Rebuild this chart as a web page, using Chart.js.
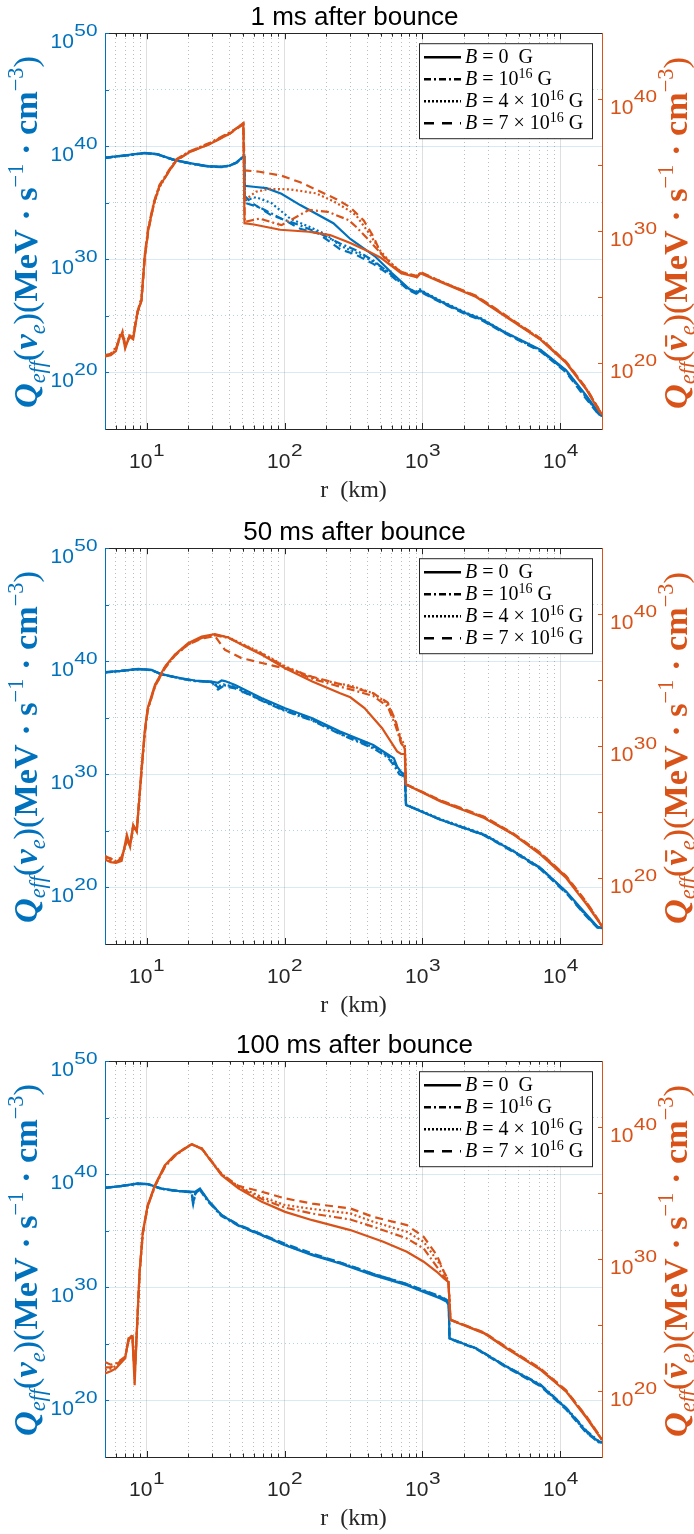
<!DOCTYPE html>
<html lang="en">
<head>
<meta charset="UTF-8">
<title>Q_eff vs r</title>
<script src="https://cdn.jsdelivr.net/npm/chart.js"></script>
<style>
  html, body { margin: 0; padding: 0; background: #fff; overflow: hidden; }
  canvas { position: absolute; left: 0; }
</style>
</head>
<body>
<canvas id="c1" width="694" height="515" style="top:0px"></canvas>
<canvas id="c2" width="694" height="515" style="top:515px"></canvas>
<canvas id="c3" width="694" height="515" style="top:1028px"></canvas>
<script>
// axis ticks
const X_MAJOR = [10, 100, 1000, 10000];
const X_EXP = [1, 2, 3, 4];
const X_MINOR = [6, 7, 8, 9, 20, 30, 40, 50, 60, 70, 80, 90, 200, 300, 400, 500, 600, 700, 800, 900,
                 2000, 3000, 4000, 5000, 6000, 7000, 8000, 9000];
const Y_LEFT_EXP = [20, 30, 40, 50];
const Y_LEFT_MINOR_EXP = [25, 35, 45];
const Y_RIGHT_EXP = [20, 30, 40];
const Y_RIGHT_MINOR_EXP = [25, 35];

// data: [r (km), log10 Q]
// 1 ms after bounce
const nu_1ms_B0 = [[5,39.0],[6,39.1],[7.5,39.25],[9.7,39.42],[12,39.3],[14.5,38.95],[16.5,38.75],[22,38.45],[28,38.25],[35,38.2],[40,38.3],[45,38.6],[50.9,39.15],[51.3,36.5],[62,36.4],[74,36.3],[95,35.8],[130,34.8],[226,33.2],[300,31.8],[450,30.3],[600,28.8],[800,27.4],[900,27.1],[960,27.25],[1050,27.0],[1350,26.3],[2100,25.2],[2650,24.75],[3900,23.6],[7200,22.0],[11000,20.2],[15500,17.9],[19000,16.4],[20000,16.2]];
const nu_1ms_B1e16 = [[5,38.95],[6,39.1],[7.5,39.2],[9.7,39.4],[12,39.28],[14.5,38.95],[16.5,38.72],[22,38.42],[28,38.2],[35,38.15],[40,38.28],[45,38.55],[50.9,39.1],[51.5,35.0],[66,34.6],[95,33.6],[130,33.0],[180,32.3],[253,31.4],[330,30.8],[440,29.9],[600,28.6],[800,27.3],[900,27.0],[960,27.2],[1050,26.95],[1350,26.25],[2100,25.15],[2650,24.7],[3900,23.55],[7200,21.9],[11000,20.1],[15500,17.75],[19000,16.3],[20000,16.15]];
const nu_1ms_B4e16 = [[5,39.0],[6,39.08],[7.5,39.22],[9.7,39.4],[12,39.3],[14.5,38.92],[16.5,38.72],[22,38.44],[28,38.22],[35,38.18],[40,38.27],[45,38.58],[50.9,39.12],[51.5,35.2],[62,35.5],[80,35.0],[110,33.6],[150,32.9],[200,32.2],[253,31.2],[330,30.6],[440,29.8],[600,28.7],[800,27.35],[900,27.15],[960,27.35],[1050,27.05],[1350,26.35],[2100,25.25],[2650,24.8],[3900,23.6],[7200,21.95],[11000,20.15],[15500,17.8],[19000,16.35],[20000,16.2]];
const nu_1ms_B7e16 = [[5,38.98],[6,39.1],[7.5,39.24],[9.7,39.4],[12,39.28],[14.5,38.93],[16.5,38.74],[22,38.43],[28,38.23],[35,38.17],[40,38.3],[45,38.57],[50.9,39.1],[51.5,35.6],[58,35.0],[67,34.5],[80,33.9],[95,33.6],[110,33.2],[130,32.7],[175,32.3],[253,30.9],[330,30.4],[440,29.6],[600,28.5],[800,27.25],[900,26.95],[960,27.15],[1050,26.9],[1350,26.2],[2100,25.1],[2650,24.65],[3900,23.5],[7200,21.85],[11000,20.0],[15500,17.6],[19000,16.25],[20000,16.15]];
const nubar_1ms_B0 = [[5,20.5],[5.5,20.6],[6.0,20.9],[6.4,22.0],[6.7,22.2],[7.0,21.1],[7.5,22.0],[8.0,21.8],[8.6,23.8],[9.2,24.8],[9.7,28.0],[10.3,30.1],[11.3,32.1],[12.4,33.4],[14.5,34.5],[16.5,35.4],[20.6,36.0],[28.8,36.6],[40.3,37.4],[50.3,38.2],[51.3,30.6],[60,30.5],[93,30.1],[150,29.95],[214,29.7],[300,29.1],[400,28.5],[495,28.0],[700,26.8],[914,26.5],[966,26.8],[1350,26.15],[2450,25.0],[3900,23.6],[7200,21.75],[11000,20.0],[15500,17.95],[19000,16.4],[20000,16.1]];
const nubar_1ms_B1e16 = [[5,20.6],[5.5,20.7],[6.0,21.2],[6.4,21.9],[6.7,22.3],[7.0,21.3],[7.5,21.9],[8.0,22.1],[8.6,23.9],[9.2,25.0],[9.7,28.2],[10.3,30.3],[11.3,32.2],[12.4,33.5],[14.5,34.6],[16.5,35.45],[20.6,36.05],[28.8,36.7],[40.3,37.5],[50.3,38.1],[51.5,30.7],[66,30.95],[95,30.45],[150,31.6],[206,31.46],[292,30.83],[330,30.33],[419,29.2],[510,28.2],[700,26.85],[914,26.55],[966,26.85],[1350,26.2],[2450,25.05],[3900,23.65],[7200,21.8],[11000,20.05],[15500,18.0],[19000,16.45],[20000,16.1]];
const nubar_1ms_B4e16 = [[5,20.55],[5.5,20.65],[6.0,21.0],[6.4,22.1],[6.7,22.0],[7.0,21.2],[7.5,22.1],[8.0,22.0],[8.6,23.7],[9.2,24.9],[9.7,28.1],[10.3,30.2],[11.3,32.0],[12.4,33.3],[14.5,34.55],[16.5,35.4],[20.6,36.05],[28.8,36.65],[40.3,37.45],[50.3,38.15],[51.5,32.35],[62,32.98],[78,33.2],[110,33.16],[170,32.86],[230,32.22],[290,31.6],[330,31.2],[419,29.7],[495,28.5],[600,27.5],[700,26.9],[914,26.55],[966,26.85],[1350,26.2],[2450,25.05],[3900,23.65],[7200,21.8],[11000,20.05],[15500,18.0],[19000,16.45],[20000,16.1]];
const nubar_1ms_B7e16 = [[5,20.5],[5.5,20.65],[6.0,21.1],[6.4,21.8],[6.7,22.4],[7.0,21.4],[7.5,22.0],[8.0,22.0],[8.6,23.9],[9.2,24.7],[9.7,27.9],[10.3,30.0],[11.3,32.1],[12.4,33.4],[14.5,34.5],[16.5,35.35],[20.6,36.0],[28.8,36.6],[40.3,37.4],[50.3,38.1],[51.5,34.6],[66,34.5],[95,34.2],[130,33.7],[240,32.4],[300,31.8],[375,30.8],[440,29.6],[495,28.4],[560,27.6],[700,26.9],[914,26.6],[966,26.9],[1350,26.2],[2450,25.1],[3900,23.7],[7200,21.85],[11000,20.1],[15500,18.05],[19000,16.5],[20000,16.1]];

// 50 ms after bounce
const nu_50ms_B0 = [[5,39.04],[6.5,39.15],[8.7,39.33],[10.9,39.24],[12.8,38.86],[17.9,38.5],[22.4,38.3],[29.6,38.2],[33,38.1],[35,38.3],[37,38.25],[43.9,37.9],[68.5,36.74],[101,35.85],[159,34.97],[253,33.8],[440,32.6],[620,31.43],[655,30.69],[710,30.1],[745,30.0],[760,27.3],[1350,25.98],[2800,24.65],[4600,23.17],[7184,21.7],[11000,19.64],[15500,17.58],[18500,16.55],[20000,16.4]];
const nu_50ms_B1e16 = [[5,39.0],[6.5,39.15],[8.7,39.3],[10.9,39.2],[12.8,38.85],[17.9,38.45],[22.4,38.25],[29.6,38.15],[33,37.7],[36,37.9],[43.9,37.7],[68.5,36.5],[101,35.6],[159,34.75],[253,33.55],[440,32.3],[560,31.5],[620,30.8],[680,30.0],[745,29.8],[760,27.3],[1350,26.0],[2800,24.65],[4600,23.2],[7184,21.7],[11000,19.55],[15500,17.45],[18500,16.5],[20000,16.4]];
const nu_50ms_B4e16 = [[5,39.02],[6.5,39.12],[8.7,39.3],[10.9,39.22],[12.8,38.84],[17.9,38.47],[22.4,38.27],[29.6,38.17],[33,37.8],[36,37.95],[43.9,37.75],[68.5,36.6],[101,35.7],[159,34.8],[253,33.6],[440,32.4],[560,31.6],[620,31.0],[680,30.2],[745,29.9],[760,27.35],[1350,26.05],[2800,24.7],[4600,23.22],[7184,21.72],[11000,19.6],[15500,17.5],[18500,16.5],[20000,16.4]];
const nu_50ms_B7e16 = [[5,39.03],[6.5,39.14],[8.7,39.31],[10.9,39.23],[12.8,38.85],[17.9,38.48],[22.4,38.28],[29.6,38.18],[33,37.5],[36,37.8],[43.9,37.6],[68.5,36.55],[101,35.65],[159,34.85],[253,33.7],[440,32.5],[560,31.7],[620,31.1],[680,30.3],[745,29.95],[760,27.3],[1350,26.0],[2800,24.6],[4600,23.1],[7184,21.6],[11000,19.5],[15500,17.4],[18500,16.45],[20000,16.4]];
const nubar_50ms_B0 = [[5,21.4],[5.5,21.2],[6.0,21.14],[6.6,21.3],[7.2,23.28],[7.6,22.4],[8.0,24.04],[8.5,23.5],[9.2,28.33],[9.7,31.11],[10.2,32.88],[11.5,34.64],[13.6,36.03],[16.0,36.92],[20.0,37.8],[25.1,38.3],[31.3,38.48],[39.2,38.23],[51.8,37.55],[68.5,36.92],[101,35.9],[159,34.9],[253,34.0],[300,33.7],[380,32.88],[510,31.36],[655,29.6],[700,29.4],[745,29.4],[755,27.1],[1350,25.8],[2800,24.55],[4600,23.28],[7184,21.77],[11000,20.0],[15500,17.98],[19600,16.46],[20000,16.3]];
const nubar_50ms_B1e16 = [[5,21.7],[5.5,21.4],[6.0,21.3],[6.6,21.6],[7.2,22.8],[7.6,22.6],[8.0,23.9],[8.5,23.7],[9.2,28.0],[9.7,30.9],[10.2,32.7],[11.5,34.5],[13.6,35.9],[16.0,36.85],[20.0,37.7],[25.1,38.2],[31.3,38.4],[39.2,38.2],[51.8,37.6],[68.5,37.0],[101,36.0],[159,35.1],[253,34.5],[300,34.3],[440,33.8],[560,33.0],[640,31.5],[700,30.2],[745,29.9],[760,27.1],[1350,25.85],[2800,24.6],[4600,23.3],[7184,21.85],[11000,20.1],[15500,18.1],[19600,16.5],[20000,16.3]];
const nubar_50ms_B4e16 = [[5,21.5],[5.5,21.3],[6.0,21.2],[6.6,21.4],[7.2,23.0],[7.6,22.5],[8.0,24.0],[8.5,23.6],[9.2,28.2],[9.7,31.0],[10.2,32.8],[11.5,34.6],[13.6,36.0],[16.0,36.9],[20.0,37.75],[25.1,38.25],[31.3,38.45],[39.2,38.25],[51.8,37.65],[68.5,37.05],[101,36.05],[159,35.2],[253,34.7],[300,34.6],[440,34.0],[560,33.2],[640,31.8],[700,30.5],[745,30.1],[760,27.1],[1350,25.85],[2800,24.6],[4600,23.3],[7184,21.85],[11000,20.1],[15500,18.1],[19600,16.5],[20000,16.3]];
const nubar_50ms_B7e16 = [[5,21.6],[5.5,21.5],[6.0,21.2],[6.6,21.5],[7.2,22.9],[7.6,22.4],[8.0,23.8],[8.5,23.6],[9.2,28.1],[9.7,31.0],[10.2,32.8],[11.5,34.5],[13.6,35.95],[16.0,36.85],[20.0,37.7],[25.1,38.15],[31.3,38.35],[37,37.3],[48.7,36.67],[68.5,36.3],[90,36.0],[120,35.7],[159,35.25],[253,34.7],[300,34.5],[440,34.0],[560,33.3],[640,31.9],[700,30.3],[745,29.8],[760,27.1],[1350,25.9],[2800,24.65],[4600,23.35],[7184,21.9],[11000,20.15],[15500,18.15],[19600,16.55],[20000,16.3]];

// 100 ms after bounce
const nu_100ms_B0 = [[5,38.8],[6.5,38.95],[8.7,39.19],[10.3,39.13],[12.8,38.74],[16.9,38.53],[22.4,38.44],[24.4,38.74],[27.9,37.71],[35,36.38],[46.3,35.5],[68.5,34.62],[101,33.73],[159,32.85],[253,32.11],[440,31.08],[770,30.2],[1020,29.6],[1350,29.02],[1500,28.72],[1550,28.4],[1570,25.48],[2450,24.6],[3900,23.12],[7184,21.35],[11000,19.3],[15500,17.22],[19000,16.34],[20000,16.3]];
const nu_100ms_B1e16 = [[5,38.8],[6.5,38.95],[8.7,39.15],[10.3,39.1],[12.8,38.7],[16.9,38.5],[21.2,38.4],[21.8,37.5],[22.6,38.3],[24.4,38.6],[27.9,37.6],[35,36.3],[46.3,35.45],[68.5,34.6],[101,33.75],[159,32.9],[253,32.2],[440,31.2],[770,30.3],[1020,29.75],[1350,29.2],[1500,28.9],[1550,28.5],[1570,25.5],[2450,24.62],[3900,23.15],[7184,21.4],[11000,19.35],[15500,17.3],[19000,16.4],[20000,16.3]];
const nu_100ms_B4e16 = [[5,38.82],[6.5,38.96],[8.7,39.17],[10.3,39.12],[12.8,38.72],[16.9,38.52],[21.2,38.42],[21.8,37.4],[22.6,38.35],[24.4,38.65],[27.9,37.65],[35,36.35],[46.3,35.5],[68.5,34.65],[101,33.8],[159,32.9],[253,32.15],[440,31.15],[770,30.25],[1020,29.7],[1350,29.1],[1500,28.8],[1550,28.45],[1570,25.5],[2450,24.6],[3900,23.1],[7184,21.3],[11000,19.25],[15500,17.15],[19000,16.3],[20000,16.3]];
const nu_100ms_B7e16 = [[5,38.81],[6.5,38.95],[8.7,39.18],[10.3,39.12],[12.8,38.73],[16.9,38.52],[21.2,38.43],[21.6,37.6],[22.6,38.3],[24.4,38.7],[27.9,37.7],[35,36.4],[46.3,35.55],[68.5,34.7],[101,33.85],[159,33.0],[253,32.2],[440,31.2],[770,30.3],[1020,29.7],[1350,29.15],[1500,28.85],[1550,28.5],[1570,25.45],[2450,24.55],[3900,23.05],[7184,21.25],[11000,19.2],[15500,17.1],[19000,16.3],[20000,16.3]];
const nubar_100ms_B0 = [[5,21.34],[5.5,21.5],[6.0,21.72],[7.0,22.48],[7.4,23.99],[7.9,24.12],[8.2,20.45],[8.5,24.5],[8.9,29.04],[9.4,32.07],[10.2,34.09],[11.5,35.6],[13.6,37.12],[16.0,37.88],[18.9,38.39],[21.2,38.69],[25.1,38.39],[35,36.36],[46.3,35.36],[68.5,34.34],[101,33.58],[159,32.95],[300,32.2],[520,31.31],[770,30.55],[1020,29.8],[1270,29.04],[1430,28.54],[1540,28.28],[1596,25.38],[2800,24.37],[3900,23.36],[7184,21.6],[11000,19.95],[15500,17.93],[19600,16.42],[20000,16.3]];
const nubar_100ms_B1e16 = [[5,22.2],[5.5,22.0],[6.0,22.1],[7.0,22.6],[7.4,23.8],[7.9,24.3],[8.2,22.0],[8.5,24.4],[8.9,28.8],[9.4,31.9],[10.2,34.0],[11.5,35.5],[13.6,37.0],[16.0,37.8],[18.9,38.35],[21.2,38.7],[25.1,38.35],[35,36.4],[46.3,35.45],[68.5,34.55],[101,33.9],[159,33.45],[300,33.0],[440,32.45],[770,31.57],[1020,30.8],[1350,29.04],[1500,28.4],[1540,28.3],[1596,25.4],[2800,24.4],[3900,23.4],[7184,21.65],[11000,20.0],[15500,18.0],[19600,16.45],[20000,16.3]];
const nubar_100ms_B4e16 = [[5,21.6],[5.5,21.7],[6.0,21.9],[7.0,22.5],[7.4,23.9],[7.9,24.2],[8.2,21.5],[8.5,24.45],[8.9,28.9],[9.4,32.0],[10.2,34.05],[11.5,35.55],[13.6,37.05],[16.0,37.85],[18.9,38.37],[21.2,38.72],[25.1,38.38],[35,36.45],[46.3,35.5],[68.5,34.7],[101,34.1],[159,33.8],[300,33.46],[440,32.83],[770,32.07],[1020,31.31],[1350,29.55],[1500,28.6],[1540,28.35],[1596,25.4],[2800,24.4],[3900,23.4],[7184,21.65],[11000,20.0],[15500,18.0],[19600,16.45],[20000,16.3]];
const nubar_100ms_B7e16 = [[5,21.8],[5.5,21.8],[6.0,22.0],[7.0,22.55],[7.4,23.85],[7.9,24.25],[8.2,21.0],[8.5,24.4],[8.9,28.95],[9.4,32.0],[10.2,34.0],[11.5,35.55],[13.6,37.1],[16.0,37.85],[18.9,38.4],[21.2,38.7],[25.1,38.4],[35,36.45],[46.3,35.55],[68.5,35.1],[101,34.6],[159,34.2],[300,33.84],[440,33.2],[770,32.58],[1020,31.69],[1270,30.3],[1430,29.04],[1540,28.4],[1596,25.4],[2800,24.45],[3900,23.45],[7184,21.7],[11000,20.05],[15500,18.05],[19600,16.5],[20000,16.3]];

const BLUE = '#0072BD';
const ORANGE = '#D95319';
const INK = '#262626';
const SANS = '"Liberation Sans", Arial, Helvetica, sans-serif';
const SERIF = '"Liberation Serif", "Times New Roman", serif';
// B = 0, 1e16, 4e16, 7e16
const DASHES = [[], [8, 3, 2, 3], [2, 2.5], [8, 5]];
const LEGEND_DASHES = [[], [7, 3, 2, 3], [2, 2], [10, 8]];
const LEGEND_ROWS = [
  [['B', 'i'], [' = 0  G', 'n']],
  [['B', 'i'], [' = 10', 'n'], ['16', 's'], [' G', 'n']],
  [['B', 'i'], [' = 4 × 10', 'n'], ['16', 's'], [' G', 'n']],
  [['B', 'i'], [' = 7 × 10', 'n'], ['16', 's'], [' G', 'n']]
];

function series(points, color, dash, axis) {
  return {
    data: points.map(([r, e]) => ({x: r, y: Math.pow(10, e)})),
    xAxisID: 'x',
    yAxisID: axis,
    showLine: true,
    borderColor: color,
    backgroundColor: color,
    borderWidth: 2.2,
    borderDash: dash,
    pointRadius: 0,
    pointHoverRadius: 0,
    tension: 0
  };
}

// "10" with a raised exponent; the exponent is drawn a bit wider, as in the source figure
function powLabel(ctx, x, y, exp, align, color) {
  const big = '21px ' + SANS, small = '16px ' + SANS, stretch = 1.3;
  ctx.font = big;
  const w1 = ctx.measureText('10').width;
  ctx.font = small;
  const w2 = ctx.measureText(String(exp)).width * stretch;
  const w = w1 + w2;
  const x0 = align === 'right' ? x - w : align === 'center' ? x - w / 2 : x;
  ctx.fillStyle = color;
  ctx.textAlign = 'left';
  ctx.textBaseline = 'alphabetic';
  ctx.font = big;
  ctx.fillText('10', x0, y);
  ctx.save();
  ctx.translate(x0 + w1 + 0.5, y - 12);
  ctx.scale(stretch, 1);
  ctx.font = small;
  ctx.fillText(String(exp), 0, 0);
  ctx.restore();
}

function axisTitle(ctx, cx, cy, bar, color) {
  const S = 26, s = 17;
  const segs = [
    {t: 'Q', f: `italic bold ${S}px ${SERIF}`, dy: 0},
    {t: 'eff', f: `italic ${s}px ${SERIF}`, dy: 6},
    {t: '(', f: `${S}px ${SERIF}`, dy: 0},
    {t: 'ν', f: `italic bold ${S}px ${SERIF}`, dy: 0, bar: bar},
    {t: 'e', f: `italic ${s}px ${SERIF}`, dy: 6},
    {t: ')(', f: `${S}px ${SERIF}`, dy: 0},
    {t: 'MeV · s', f: `bold ${S}px ${SERIF}`, dy: 0},
    {t: '−1', f: `${s}px ${SERIF}`, dy: -11},
    {t: ' · cm', f: `bold ${S}px ${SERIF}`, dy: 0},
    {t: '−3', f: `${s}px ${SERIF}`, dy: -11},
    {t: ')', f: `${S}px ${SERIF}`, dy: 0}
  ];
  let w = 0;
  for (const g of segs) { ctx.font = g.f; g.w = ctx.measureText(g.t).width; w += g.w; }
  const k = 352 / w;
  ctx.save();
  ctx.translate(cx, cy);
  ctx.rotate(-Math.PI / 2);
  ctx.scale(k, k);
  ctx.fillStyle = color;
  ctx.textAlign = 'left';
  ctx.textBaseline = 'alphabetic';
  let x = -w / 2;
  for (const g of segs) {
    ctx.font = g.f;
    ctx.fillText(g.t, x, g.dy);
    if (g.bar) ctx.fillRect(x + 3, -S * 0.64, g.w - 3, 1.6);
    x += g.w;
  }
  ctx.restore();
}

function drawLegend(ctx, a) {
  const x0 = a.right - 183, y0 = a.top + 10, w = 173, h = 95;
  ctx.fillStyle = '#fff';
  ctx.fillRect(x0, y0, w, h);
  ctx.strokeStyle = INK;
  ctx.lineWidth = 1;
  ctx.setLineDash([]);
  ctx.strokeRect(x0 + 0.5, y0 + 0.5, w, h);
  LEGEND_ROWS.forEach((row, i) => {
    const cy = y0 + 14 + i * 22;
    ctx.save();
    ctx.strokeStyle = '#000';
    ctx.lineWidth = 2.5;
    ctx.setLineDash(LEGEND_DASHES[i]);
    ctx.beginPath();
    ctx.moveTo(x0 + 5, cy);
    ctx.lineTo(x0 + 42, cy);
    ctx.stroke();
    ctx.restore();
    let x = x0 + 46;
    ctx.fillStyle = '#000';
    ctx.textAlign = 'left';
    ctx.textBaseline = 'alphabetic';
    for (const [t, kind] of row) {
      ctx.font = kind === 'i' ? `italic 20px ${SERIF}` : kind === 's' ? `14px ${SERIF}` : `20px ${SERIF}`;
      ctx.fillText(t, x, kind === 's' ? cy - 1 : cy + 6);
      x += ctx.measureText(t).width;
    }
  });
}

function tickMarks(ctx, a, scales) {
  ctx.save();
  ctx.lineWidth = 1;
  ctx.strokeStyle = INK;
  ctx.beginPath();
  for (const v of X_MAJOR.concat(X_MINOR)) {
    const len = X_MAJOR.includes(v) ? 6 : 3.5;
    const px = Math.round(scales.x.getPixelForValue(v)) + 0.5;
    ctx.moveTo(px, a.bottom); ctx.lineTo(px, a.bottom - len);
    ctx.moveTo(px, a.top); ctx.lineTo(px, a.top + len);
  }
  ctx.stroke();
  ctx.strokeStyle = BLUE;
  ctx.beginPath();
  for (const e of Y_LEFT_EXP.concat(Y_LEFT_MINOR_EXP)) {
    const py = Math.round(scales.y.getPixelForValue(Math.pow(10, e))) + 0.5;
    ctx.moveTo(a.left, py); ctx.lineTo(a.left + 4, py);
  }
  ctx.stroke();
  ctx.strokeStyle = ORANGE;
  ctx.beginPath();
  for (const e of Y_RIGHT_EXP.concat(Y_RIGHT_MINOR_EXP)) {
    const py = Math.round(scales.y2.getPixelForValue(Math.pow(10, e))) + 0.5;
    ctx.moveTo(a.right, py); ctx.lineTo(a.right - 4, py);
  }
  ctx.stroke();
  ctx.restore();
}

const decor = {
  id: 'decor',
  afterDraw(chart) {
    const {ctx, chartArea: a, scales} = chart;
    ctx.save();
    tickMarks(ctx, a, scales);
    for (const e of Y_LEFT_EXP) {
      powLabel(ctx, a.left - 8, scales.y.getPixelForValue(Math.pow(10, e)) + 15, e, 'right', BLUE);
    }
    for (const e of Y_RIGHT_EXP) {
      powLabel(ctx, a.right + 8, scales.y2.getPixelForValue(Math.pow(10, e)) + 15, e, 'left', ORANGE);
    }
    for (const e of X_EXP) {
      powLabel(ctx, scales.x.getPixelForValue(Math.pow(10, e)), a.bottom + 39, e, 'center', INK);
    }
    const mid = (a.top + a.bottom) / 2;
    axisTitle(ctx, a.left - 68, mid + 1, false, BLUE);
    axisTitle(ctx, a.right + 85, mid + 2, true, ORANGE);
    drawLegend(ctx, a);
    ctx.restore();
  }
};

function logAxis(position, min, max, values, extra) {
  return Object.assign({
    type: 'logarithmic',
    position: position,
    min: min,
    max: max,
    afterBuildTicks: s => { s.ticks = values.map(v => ({value: v})); },
    ticks: {display: false}
  }, extra);
}

function makeChart(id, titleText, nu, nubar) {
  const canvas = document.getElementById(id);
  const H = canvas.height;
  return new Chart(canvas, {
    type: 'scatter',
    data: {
      datasets: [
        ...nubar.map((d, i) => series(d, ORANGE, DASHES[i], 'y2')),
        ...nu.map((d, i) => series(d, BLUE, DASHES[i], 'y'))
      ]
    },
    options: {
      responsive: false,
      animation: false,
      events: [],
      layout: {padding: {left: 15, right: 0, top: 0, bottom: 0}},
      plugins: {
        legend: {display: false},
        tooltip: {enabled: false},
        title: {
          display: true,
          text: titleText,
          color: '#000',
          font: {family: SANS, size: 26, weight: 'normal', lineHeight: 1.2},
          padding: {top: 2, bottom: 0}
        }
      },
      scales: {
        x: logAxis('bottom', 5, 20000, X_MAJOR, {
          afterFit: s => { s.height = H - 429; },
          grid: {color: 'rgba(38,38,38,0.15)', drawTicks: false},
          border: {color: INK, width: 1},
          title: {display: true, text: 'r  (km)', color: INK,
                  font: {family: SERIF, size: 24, lineHeight: 1.2}, padding: {top: 0, bottom: 10}}
        }),
        xm: logAxis('top', 5, 20000, X_MINOR, {
          afterFit: s => { s.height = 0; },
          grid: {color: 'rgba(38,38,38,0.3)', drawTicks: false},
          border: {color: INK, width: 1, dash: [1, 3]}
        }),
        y: logAxis('left', 1e15, 1e50, Y_LEFT_EXP.map(e => Math.pow(10, e)), {
          afterFit: s => { s.width = 90; },
          grid: {color: 'rgba(0,114,189,0.15)', drawTicks: false},
          border: {color: BLUE, width: 1}
        }),
        ym: logAxis('left', 1e15, 1e50, Y_LEFT_MINOR_EXP.map(e => Math.pow(10, e)), {
          afterFit: s => { s.width = 0; },
          grid: {color: 'rgba(0,114,189,0.3)', drawTicks: false},
          border: {display: false, dash: [1, 3]}
        }),
        y2: logAxis('right', 1e15, 1e45, Y_RIGHT_EXP.map(e => Math.pow(10, e)), {
          afterFit: s => { s.width = 92; },
          grid: {drawOnChartArea: false, drawTicks: false},
          border: {color: ORANGE, width: 1}
        })
      }
    },
    plugins: [decor]
  });
}

makeChart('c1', '1 ms after bounce',
  [nu_1ms_B0, nu_1ms_B1e16, nu_1ms_B4e16, nu_1ms_B7e16],
  [nubar_1ms_B0, nubar_1ms_B1e16, nubar_1ms_B4e16, nubar_1ms_B7e16]);
makeChart('c2', '50 ms after bounce',
  [nu_50ms_B0, nu_50ms_B1e16, nu_50ms_B4e16, nu_50ms_B7e16],
  [nubar_50ms_B0, nubar_50ms_B1e16, nubar_50ms_B4e16, nubar_50ms_B7e16]);
makeChart('c3', '100 ms after bounce',
  [nu_100ms_B0, nu_100ms_B1e16, nu_100ms_B4e16, nu_100ms_B7e16],
  [nubar_100ms_B0, nubar_100ms_B1e16, nubar_100ms_B4e16, nubar_100ms_B7e16]);
</script>
</body>
</html>
